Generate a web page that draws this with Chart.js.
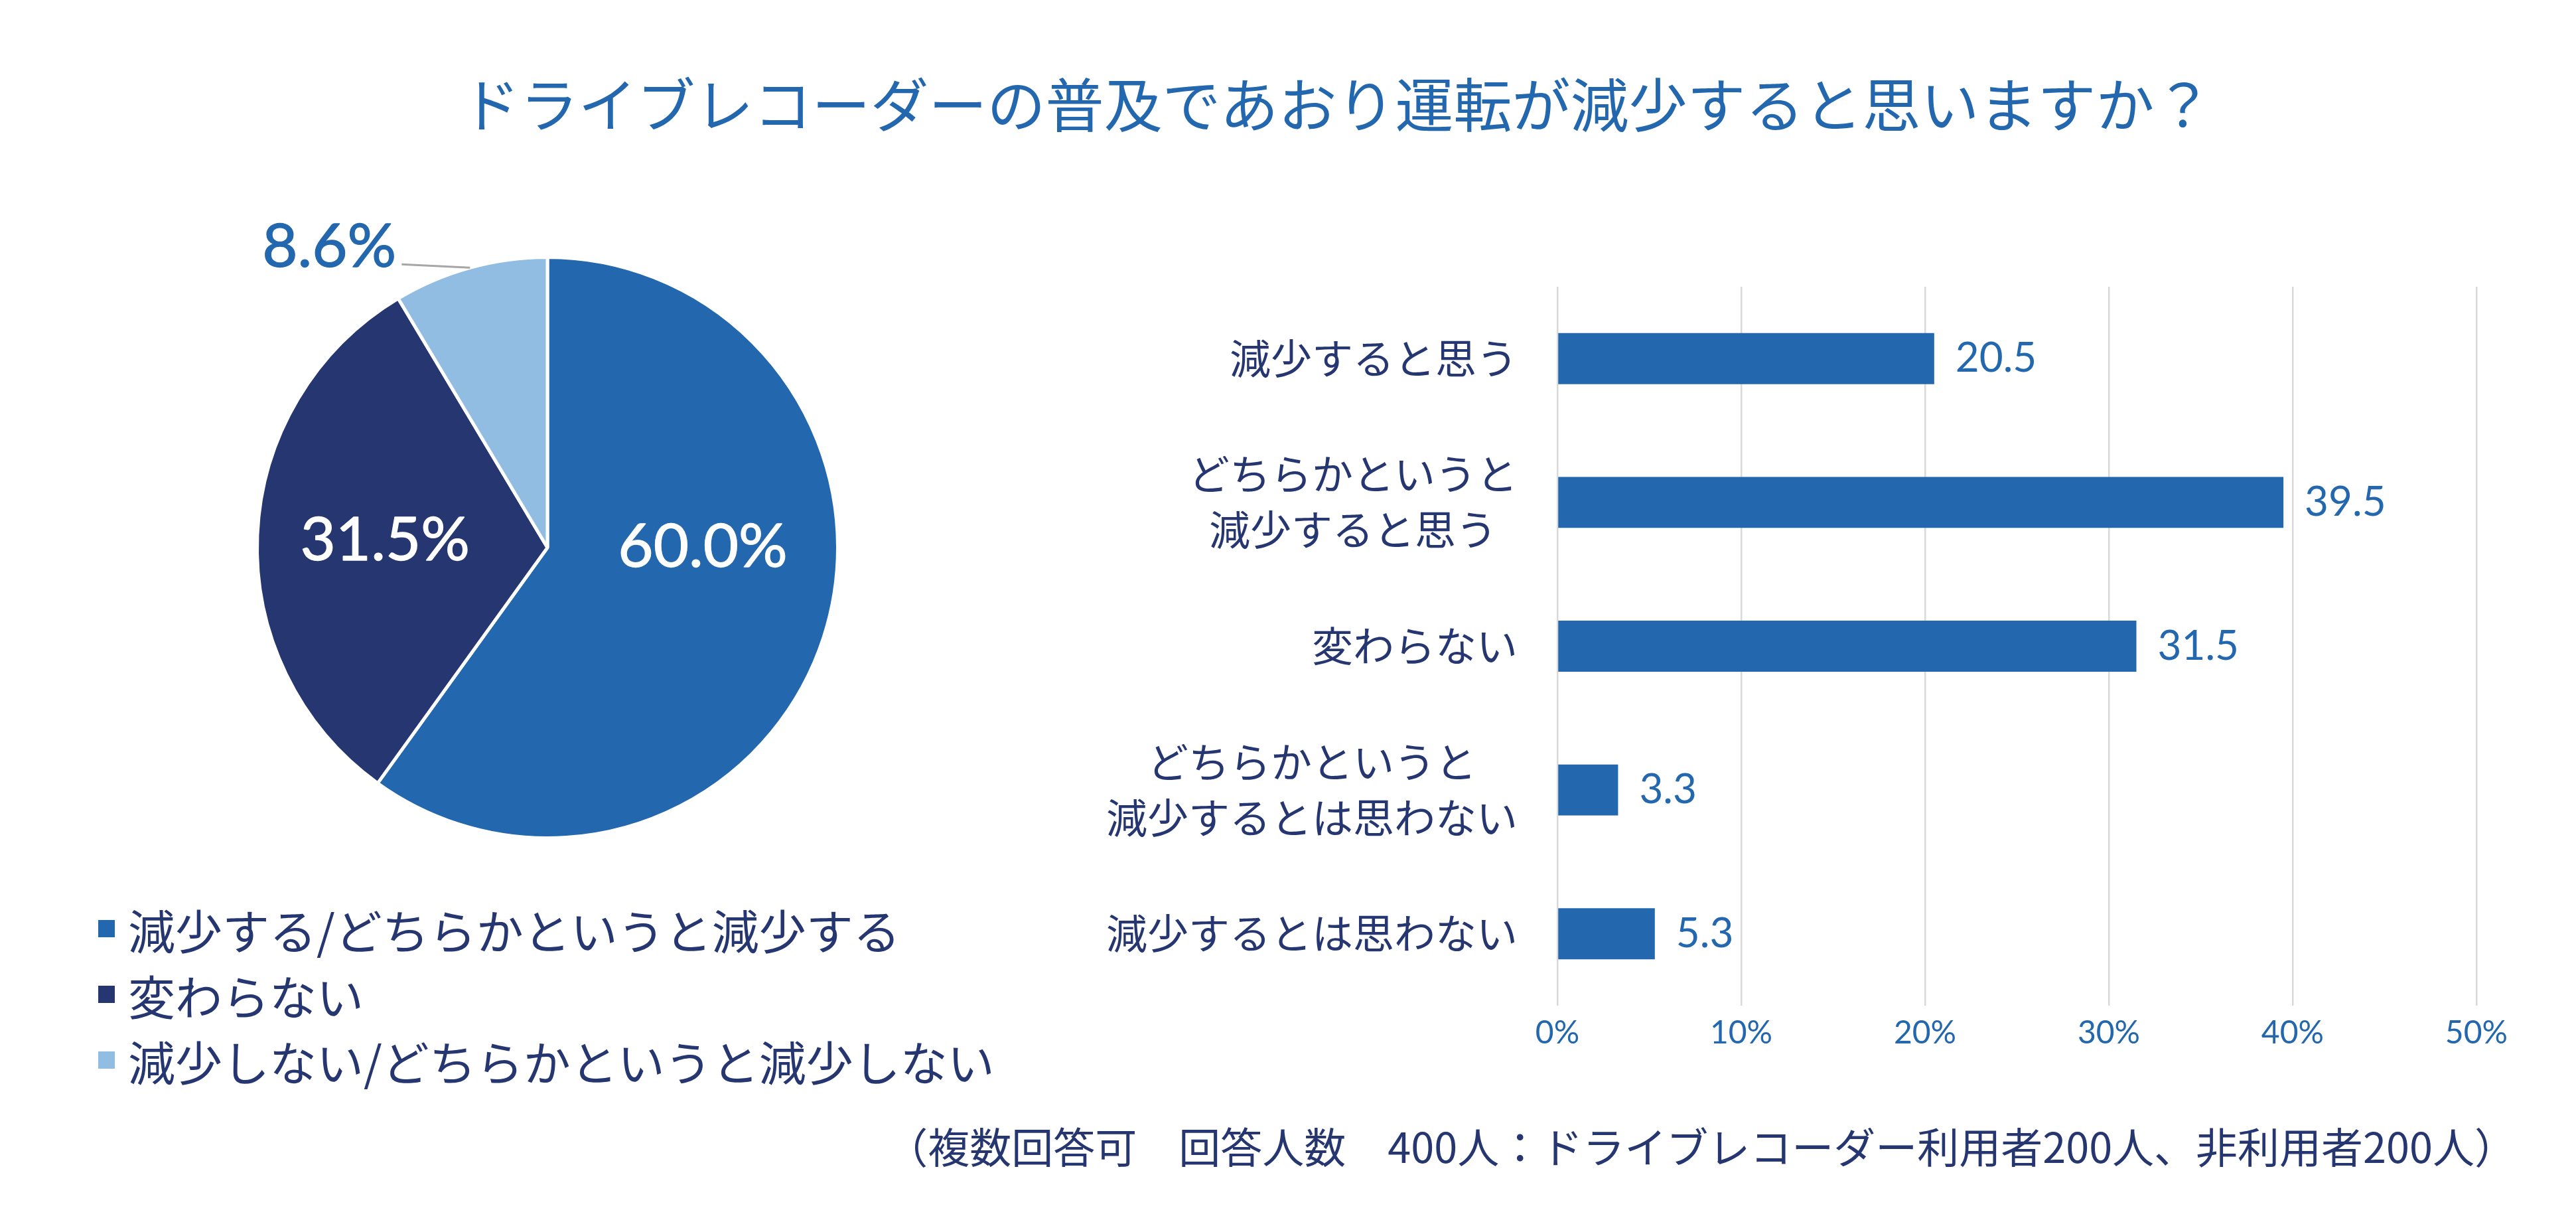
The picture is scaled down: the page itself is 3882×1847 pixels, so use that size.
<!DOCTYPE html>
<html lang="ja">
<head>
<meta charset="utf-8">
<title>ドライブレコーダーの普及であおり運転</title>
<script src="https://cdn.jsdelivr.net/npm/chart.js@4.4.1/dist/chart.umd.min.js"></script>
<style>
    body { margin: 0; background: #fff; width: 3882px; height: 1847px; overflow: hidden; position: relative; font-family: "Noto Sans CJK JP", sans-serif; }
    #titulo { position: absolute; left: 2015px; top: 98px; transform: translateX(-50%); white-space: nowrap; font-size: 88px; line-height: 110px; color: #2367ae; }
    #caixaPizza { position: absolute; left: 300px; top: 300px; width: 1050px; height: 1050px; }
    #caixaBarras { position: absolute; left: 1600px; top: 432px; width: 2192px; height: 1183px; }
    #legenda { position: absolute; left: 148px; top: 1349px; }
    .item-legenda { height: 99px; display: flex; align-items: center; font-size: 71px; color: #253670; white-space: nowrap; }
    .quadrado { width: 25px; height: 26px; margin-right: 20px; }
    #rodape { position: absolute; right: 90px; top: 1685px; font-size: 63px; line-height: 80px; color: #253670; white-space: nowrap; }
</style>
</head>
<body>

<div id="titulo">ドライブレコーダーの普及であおり運転が減少すると思いますか？</div>
<div id="caixaPizza"><canvas id="graficoPizza"></canvas></div>
<div id="legenda"></div>
<div id="caixaBarras"><canvas id="graficoBarras"></canvas></div>
<div id="rodape">（複数回答可　回答人数　400人：ドライブレコーダー利用者200人、非利用者200人）</div>

<script>
// Dados da pizza
var categoriasPizza = ['減少する/どちらかというと減少する', '変わらない', '減少しない/どちらかというと減少しない'];
var valoresPizza = [60.0, 31.5, 8.6];
var coresPizza = ['#2367ae', '#253670', '#92bde2'];

// Dados das barras
var categoriasBarras = [
    ['減少すると思う'],
    ['どちらかというと', '減少すると思う'],
    ['変わらない'],
    ['どちらかというと', '減少するとは思わない'],
    ['減少するとは思わない']
];
var valoresBarras = [20.5, 39.5, 31.5, 3.3, 5.3];
var ticksEixoX = [0, 10, 20, 30, 40, 50];

var azul = '#2367ae';
var marinho = '#253670';

// Legenda feita em html
var legenda = document.getElementById('legenda');
for (var i = 0; i < categoriasPizza.length; i++) {
    var item = document.createElement('div');
    item.className = 'item-legenda';
    var q = document.createElement('span');
    q.className = 'quadrado';
    q.style.background = coresPizza[i];
    item.appendChild(q);
    item.appendChild(document.createTextNode(categoriasPizza[i]));
    legenda.appendChild(item);
}

// Ajustes dos rotulos dentro da pizza (angulo extra e distancia do centro)
var ajusteAngulo = [-18, 0];
var raioRotulo = [0.535, 0.56];

// escreve o texto com um contorno fino pra ficar meio-negrito
function textoMedio(ctx, texto, x, y, cor) {
    ctx.fillStyle = cor;
    ctx.strokeStyle = cor;
    ctx.lineWidth = 1.3;
    ctx.lineJoin = 'round';
    ctx.fillText(texto, x, y);
    ctx.strokeText(texto, x, y);
}

var rotulosPizza = {
    id: 'rotulosPizza',
    afterDraw: function(chart) {
        var ctx = chart.ctx;
        var arcos = chart.getDatasetMeta(0).data;
        ctx.save();
        ctx.font = '92px Lato';
        for (var i = 0; i < arcos.length; i++) {
            var a = arcos[i].getProps(['x', 'y', 'startAngle', 'endAngle', 'outerRadius'], true);
            var meio = (a.startAngle + a.endAngle) / 2;
            var texto = valoresPizza[i].toFixed(1) + '%';

            if (i < ajusteAngulo.length) {
                var ang = meio + ajusteAngulo[i] * Math.PI / 180;
                var r = a.outerRadius * raioRotulo[i];
                ctx.textAlign = 'center';
                ctx.textBaseline = 'middle';
                textoMedio(ctx, texto, a.x + r * Math.cos(ang), a.y + r * Math.sin(ang), '#ffffff');
            } else {
                // fatia pequena: rotulo fora com linha
                var x0 = a.x + a.outerRadius * Math.cos(meio);
                var y0 = a.y + a.outerRadius * Math.sin(meio);
                var x1 = x0 - 103;
                var y1 = y0 - 5;
                ctx.strokeStyle = '#a6a6a6';
                ctx.lineWidth = 3;
                ctx.beginPath();
                ctx.moveTo(x0, y0);
                ctx.lineTo(x1, y1);
                ctx.stroke();
                ctx.textAlign = 'right';
                ctx.textBaseline = 'alphabetic';
                textoMedio(ctx, texto, x1 - 8, y1 + 4, azul);
            }
        }
        ctx.restore();
    }
};

new Chart(document.getElementById('graficoPizza'), {
    type: 'pie',
    data: {
        labels: categoriasPizza,
        datasets: [{
            data: valoresPizza,
            backgroundColor: coresPizza,
            borderColor: '#ffffff',
            borderWidth: 5
        }]
    },
    options: {
        responsive: true,
        maintainAspectRatio: false,
        animation: false,
        layout: { padding: 85 },
        plugins: { legend: { display: false }, tooltip: { enabled: false } }
    },
    plugins: [rotulosPizza]
});

// Rotulos do eixo Y (linhas centralizadas entre si, bloco alinhado a direita)
var rotulosEixoY = {
    id: 'rotulosEixoY',
    afterDraw: function(chart) {
        var ctx = chart.ctx;
        var escala = chart.scales.y;
        var direita = chart.chartArea.left - 60;
        ctx.save();
        ctx.font = '62px "Noto Sans CJK JP"';
        ctx.fillStyle = marinho;
        ctx.textAlign = 'center';
        ctx.textBaseline = 'middle';
        for (var i = 0; i < categoriasBarras.length; i++) {
            var linhas = categoriasBarras[i];
            var largura = 0;
            for (var j = 0; j < linhas.length; j++) {
                largura = Math.max(largura, ctx.measureText(linhas[j]).width);
            }
            var cx = direita - largura / 2;
            var yc = escala.getPixelForTick(i);
            for (var j = 0; j < linhas.length; j++) {
                ctx.fillText(linhas[j], cx, yc + (j - (linhas.length - 1) / 2) * 84);
            }
        }
        ctx.restore();
    }
};

// Valores no fim das barras
var valoresNasBarras = {
    id: 'valoresNasBarras',
    afterDatasetsDraw: function(chart) {
        var ctx = chart.ctx;
        var barras = chart.getDatasetMeta(0).data;
        ctx.save();
        ctx.font = '62px Lato';
        ctx.fillStyle = azul;
        ctx.textAlign = 'left';
        ctx.textBaseline = 'middle';
        for (var i = 0; i < barras.length; i++) {
            ctx.fillText(valoresBarras[i].toFixed(1), barras[i].x + 32, barras[i].y);
        }
        ctx.restore();
    }
};

new Chart(document.getElementById('graficoBarras'), {
    type: 'bar',
    data: {
        labels: categoriasBarras.map(function(l) { return l.join(''); }),
        datasets: [{
            data: valoresBarras,
            backgroundColor: azul,
            barPercentage: 0.355,
            categoryPercentage: 1
        }]
    },
    options: {
        indexAxis: 'y',
        responsive: true,
        maintainAspectRatio: false,
        animation: false,
        layout: { padding: { top: 0, right: 60, bottom: 0, left: 0 } },
        plugins: { legend: { display: false }, tooltip: { enabled: false } },
        scales: {
            x: {
                min: ticksEixoX[0],
                max: ticksEixoX[ticksEixoX.length - 1],
                afterFit: function(s) { s.height = 100; },
                grid: { color: '#d9d9d9', lineWidth: 2.5, drawTicks: false },
                border: { display: false },
                ticks: {
                    stepSize: ticksEixoX[1] - ticksEixoX[0],
                    padding: 13,
                    color: azul,
                    font: { family: 'Lato', size: 48 },
                    callback: function(v) { return v + '%'; }
                }
            },
            y: {
                afterFit: function(s) { s.width = 747; },
                grid: { display: false },
                border: { display: false },
                ticks: { display: false }
            }
        }
    },
    plugins: [rotulosEixoY, valoresNasBarras]
});
</script>
</body>
</html>
